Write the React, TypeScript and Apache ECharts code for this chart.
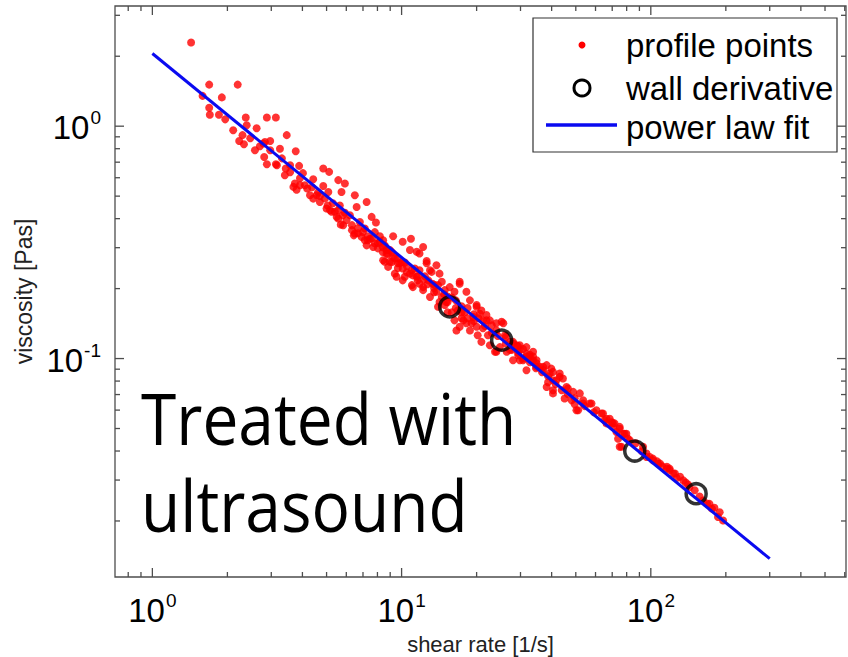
import React, { useEffect, useRef } from 'react';
import * as echarts from 'echarts';

const FONT = "'Liberation Sans', Arial, Helvetica, sans-serif";

const xMin = 0.708;
const xMax = 607;
const yMin = 0.01148;
const yMax = 3.29;

const xTickValues = [0.8, 0.9, 1, 2, 3, 4, 5, 6, 7, 8, 9, 10, 20, 30, 40, 50, 60, 70, 80, 90, 100, 200, 300, 400, 500, 600];
const yTickValues = [0.02, 0.03, 0.04, 0.05, 0.06, 0.07, 0.08, 0.09, 0.1, 0.2, 0.3, 0.4, 0.5, 0.6, 0.7, 0.8, 0.9, 1, 2, 3];
const majorTicks = [1, 10, 100, 0.1];

const xAxisName = 'shear rate [1/s]';
const yAxisName = 'viscosity [Pas]';
const legendNames = ['profile points', 'wall derivative', 'power law fit'];
const annotation = ['Treated with', 'ultrasound'];

const profilePoints: [number, number][] = [
  [1.43, 2.29], [1.69, 1.51], [2.20, 1.51], [1.59, 1.35], [1.90, 1.33], [1.69, 1.20], [1.85, 1.12], [1.96, 1.07],
  [2.37, 1.09], [2.88, 1.09], [3.13, 1.09], [2.39, 1.01], [2.62, 0.98], [2.30, 0.915], [2.23, 0.864], [2.33, 0.836],
  [2.70, 0.82], [2.97, 0.864], [2.83, 0.855], [3.46, 0.915], [3.25, 0.80], [2.81, 0.737], [2.88, 0.686], [3.13, 0.686],
  [3.76, 0.78], [3.43, 0.658], [3.88, 0.675], [4.85, 0.658], [5.12, 0.636], [4.42, 0.591], [3.73, 0.567], [3.68, 0.548],
  [3.79, 0.533], [4.85, 0.553], [5.57, 0.586], [5.92, 0.567], [4.18, 0.539], [4.29, 0.504], [4.42, 0.488], [4.70, 0.472],
  [5.08, 0.521], [5.74, 0.521], [6.49, 0.504], [7.24, 0.472], [6.60, 0.449], [5.00, 0.442], [5.24, 0.428], [5.49, 0.407],
  [5.70, 0.377], [6.01, 0.394], [7.58, 0.407], [7.89, 0.385], [6.49, 0.345], [6.91, 0.334], [7.46, 0.328], [8.18, 0.318],
  [9.25, 0.336], [10.1, 0.318], [10.9, 0.328], [10.8, 0.293], [11.5, 0.288], [12.2, 0.302], [12.6, 0.263], [8.70, 0.293],
  [7.69, 0.302], [9.25, 0.274], [9.84, 0.257], [8.43, 0.265], [2.79, 0.842], [4.56, 0.504], [5.05, 0.456], [5.16, 0.435],
  [5.40, 0.428], [5.57, 0.400], [5.83, 0.375], [6.43, 0.339], [7.12, 0.323], [7.81, 0.313], [7.24, 0.307], [8.43, 0.323],
  [8.70, 0.283], [8.56, 0.261], [11.8, 0.283], [10.1, 0.244], [9.54, 0.225], [10.8, 0.232], [11.5, 0.225], [12.6, 0.257],
  [8.97, 0.261], [8.83, 0.248], [9.39, 0.232], [10.3, 0.225], [13.8, 0.252], [13.2, 0.236], [14.2, 0.232], [11.1, 0.228],
  [11.8, 0.210], [11.0, 0.207], [12.2, 0.203], [12.8, 0.217], [13.6, 0.207], [14.5, 0.214], [15.6, 0.203], [17.1, 0.214],
  [18.2, 0.194], [18.8, 0.178], [16.3, 0.194], [13.8, 0.194], [14.5, 0.184], [15.1, 0.175], [16.3, 0.146], [17.4, 0.149],
  [18.2, 0.142], [17.1, 0.137], [20.0, 0.170], [20.9, 0.161], [21.9, 0.154], [22.6, 0.146], [21.2, 0.146], [19.4, 0.151],
  [20.0, 0.137], [25.2, 0.144], [24.0, 0.132], [20.9, 0.118], [22.6, 0.114], [24.0, 0.107], [27.2, 0.118], [28.9, 0.114],
  [30.7, 0.110], [31.7, 0.105], [33.7, 0.102], [29.4, 0.103], [34.8, 0.0953], [37.0, 0.0921], [39.9, 0.0905], [26.4, 0.107],
  [28.0, 0.0984], [10.1, 0.217], [11.1, 0.203], [12.2, 0.197], [13.0, 0.240], [13.0, 0.184], [14.0, 0.167], [17.1, 0.210],
  [20.0, 0.167], [20.6, 0.156], [21.9, 0.146], [21.2, 0.135], [19.1, 0.142], [17.7, 0.146], [16.6, 0.132], [24.0, 0.142],
  [24.8, 0.112], [28.0, 0.116], [29.8, 0.109], [31.7, 0.102], [33.7, 0.0984], [34.8, 0.0921], [37.0, 0.0891], [39.3, 0.0862],
  [40.5, 0.0807], [43.1, 0.0834], [45.9, 0.0755], [48.8, 0.0719], [51.9, 0.0708], [50.3, 0.0599], [53.5, 0.0662], [56.9, 0.0641],
  [60.5, 0.0599], [64.3, 0.058], [68.4, 0.0551], [70.5, 0.0526], [75.0, 0.0508], [79.8, 0.0475], [75.0, 0.0417], [93.1, 0.0417],
  [99.0, 0.0377], [109, 0.0353], [116, 0.0336], [123, 0.0320], [29.8, 0.0984], [31.7, 0.0891], [38.2, 0.0755], [40.5, 0.0708],
  [48.1, 0.0662], [25.6, 0.142], [23.7, 0.107], [28.0, 0.118], [29.8, 0.114], [31.7, 0.112], [33.7, 0.107], [32.7, 0.102],
  [30.7, 0.0984], [34.8, 0.0984], [35.9, 0.0921], [38.2, 0.0937], [40.5, 0.0876], [43.1, 0.0862], [41.8, 0.0807], [44.4, 0.0820],
  [40.5, 0.0731], [45.1, 0.0673], [46.5, 0.0743], [51.1, 0.0599], [53.5, 0.0641], [57.8, 0.0641], [63.4, 0.0580], [66.4, 0.0551],
  [71.6, 0.0526], [75.0, 0.0499], [78.5, 0.0475], [76.2, 0.0417], [96.1, 0.0377], [102, 0.0365], [119, 0.0336], [66.4, 0.0526],
  [70.5, 0.0508], [72.8, 0.0483], [77.3, 0.0475], [73.9, 0.0452], [82.3, 0.0445], [96.1, 0.0390], [102, 0.0371], [107, 0.0353],
  [116, 0.0342], [119, 0.0331], [125, 0.0320], [131, 0.0310], [135, 0.0299], [143, 0.0280], [162, 0.0245], [172, 0.0237],
  [180, 0.0228], [189, 0.0218], [195, 0.0201], [186, 0.0208], [150, 0.0271], [157, 0.0255], [138, 0.0293], [7.81, 0.350],
  [8.18, 0.336], [8.56, 0.307], [8.97, 0.293], [9.39, 0.270], [9.66, 0.257], [10.3, 0.259], [11.3, 0.244], [11.8, 0.240],
  [12.4, 0.226], [13.3, 0.210], [14.9, 0.197], [15.9, 0.183], [14.2, 0.175], [15.3, 0.158], [16.8, 0.161], [17.9, 0.158],
  [6.80, 0.387], [6.20, 0.414], [7.12, 0.363], [5.65, 0.456], [5.92, 0.424], [4.70, 0.500], [4.09, 0.557], [3.91, 0.597],
  [3.57, 0.634], [2.58, 0.788], [2.47, 0.888], [2.11, 0.961], [1.70, 1.12], [14.9, 0.170], [15.9, 0.158], [18.8, 0.132],
  [20.2, 0.126], [22.2, 0.126], [26.0, 0.126], [27.2, 0.109],
  [6.32, 0.375], [6.32, 0.357], [6.68, 0.364], [6.68, 0.346], [6.99, 0.350], [7.32, 0.336], [7.32, 0.323], [7.60, 0.329],
  [8.03, 0.314], [8.03, 0.298], [8.41, 0.301], [8.41, 0.287], [8.81, 0.281], [9.14, 0.287], [9.14, 0.260], [9.66, 0.270],
  [9.66, 0.245], [10.0, 0.260], [10.5, 0.250], [10.5, 0.235], [11.0, 0.240], [11.6, 0.226], [11.6, 0.217], [12.3, 0.219],
  [12.7, 0.209], [13.5, 0.201], [13.5, 0.193], [14.0, 0.207], [14.8, 0.189], [15.3, 0.185], [15.3, 0.175], [16.5, 0.178],
  [16.5, 0.165], [17.4, 0.168], [17.4, 0.158], [18.4, 0.165], [18.4, 0.149], [19.5, 0.155], [19.5, 0.145], [20.4, 0.149],
  [21.6, 0.138], [23.0, 0.129], [23.0, 0.139], [24.3, 0.125], [26.2, 0.116], [26.2, 0.124], [27.7, 0.109], [29.3, 0.106],
  [29.3, 0.113], [30.9, 0.100], [32.7, 0.0964], [32.7, 0.104], [34.6, 0.0908], [36.6, 0.0873], [38.7, 0.0839], [38.7, 0.0791],
  [41.5, 0.0776], [43.9, 0.0731], [46.4, 0.0703], [49.5, 0.0675], [49.5, 0.0636], [54.3, 0.0624], [59.1, 0.0587], [65.3, 0.0543],
  [69.7, 0.0532], [80.8, 0.0453], [87.0, 0.0432], [92.0, 0.0399], [106, 0.0361], [111, 0.0344], [127, 0.0306], [141, 0.0287],
  [168, 0.0238], [176, 0.0226], [2.97, 0.788], [3.31, 0.727], [3.57, 0.679], [4.02, 0.628], [4.37, 0.546], [4.62, 0.519],
  [4.92, 0.489], [5.30, 0.466], [5.56, 0.435], [5.81, 0.414], [3.91, 0.557], [3.40, 0.615], [3.16, 0.679],
];

const wallDerivative: [number, number][] = [
  [15.6, 0.167], [25.2, 0.120], [86.2, 0.040], [152, 0.0262],
];

const powerLawFit: [number, number][] = [
  [1, 2.055], [300, 0.01377],
];

const TICK_COLOR = '#4d4d4d';

function powLabel(v: number): string {
  const e = Math.log10(v);
  const r = Math.round(e);
  if (Math.abs(e - r) > 1e-6) return '';
  return `{b|10}{s|${r}}`;
}

const richLabel = {
  b: { fontSize: 33, fontFamily: FONT, color: '#000', verticalAlign: 'bottom', lineHeight: 36 },
  s: { fontSize: 19, fontFamily: FONT, color: '#000', verticalAlign: 'top', lineHeight: 19, padding: [0, 0, 0, 1] },
};

function isMajor(v: number) {
  return majorTicks.some((m) => Math.abs(m - v) < 1e-9) ? 1 : 0;
}

export default function App() {
  const ref = useRef<HTMLDivElement>(null);

  useEffect(() => {
    if (!ref.current) return;
    const chart = echarts.init(ref.current, null, { renderer: 'svg' });

    const option: any = {
      animation: false,
      backgroundColor: '#fff',
      grid: {
        left: 115,
        top: 6,
        width: 731,
        height: 571,
        containLabel: false,
        outerBoundsMode: 'none',
        show: true,
        borderColor: TICK_COLOR,
        borderWidth: 1.3,
        backgroundColor: 'transparent',
      },
      xAxis: {
        type: 'log',
        logBase: 10,
        min: xMin,
        max: xMax,
        name: xAxisName,
        nameLocation: 'middle',
        nameGap: 55,
        nameTextStyle: { fontSize: 22, fontFamily: FONT, color: '#222', lineHeight: 24 },
        axisLine: { show: false },
        axisTick: { show: false },
        splitLine: { show: false },
        axisLabel: { formatter: powLabel, rich: richLabel, margin: 14, showMinLabel: false, showMaxLabel: false },
      },
      yAxis: {
        type: 'log',
        logBase: 10,
        min: yMin,
        max: yMax,
        name: yAxisName,
        nameLocation: 'middle',
        nameGap: 73,
        nameTextStyle: { fontSize: 23, fontFamily: FONT, color: '#222' },
        axisLine: { show: false },
        axisTick: { show: false },
        splitLine: { show: false },
        axisLabel: { formatter: powLabel, rich: richLabel, margin: 14, showMinLabel: false, showMaxLabel: false },
      },
      series: [
        {
          type: 'custom',
          silent: true,
          clip: false,
          data: xTickValues.map((v) => [v, 1, isMajor(v)]),
          renderItem: (params: any, api: any) => {
            const cs = params.coordSys;
            const px = api.coord([api.value(0), 1])[0];
            const len = api.value(2) ? 9 : 5;
            const bottom = cs.y + cs.height;
            const st = { stroke: TICK_COLOR, lineWidth: 1.3 };
            return {
              type: 'group',
              children: [
                { type: 'line', shape: { x1: px, y1: bottom, x2: px, y2: bottom - len }, style: st },
                { type: 'line', shape: { x1: px, y1: cs.y, x2: px, y2: cs.y + len }, style: st },
              ],
            };
          },
        },
        {
          type: 'custom',
          silent: true,
          clip: false,
          data: yTickValues.map((v) => [1, v, isMajor(v)]),
          renderItem: (params: any, api: any) => {
            const cs = params.coordSys;
            const py = api.coord([1, api.value(1)])[1];
            const len = api.value(2) ? 9 : 5;
            const right = cs.x + cs.width;
            const st = { stroke: TICK_COLOR, lineWidth: 1.3 };
            return {
              type: 'group',
              children: [
                { type: 'line', shape: { x1: cs.x, y1: py, x2: cs.x + len, y2: py }, style: st },
                { type: 'line', shape: { x1: right, y1: py, x2: right - len, y2: py }, style: st },
              ],
            };
          },
        },
        {
          name: legendNames[0],
          type: 'scatter',
          data: profilePoints,
          symbol: 'circle',
          symbolSize: 8,
          itemStyle: { color: '#ff0000' },
          silent: true,
        },
        {
          name: legendNames[1],
          type: 'scatter',
          data: wallDerivative,
          symbol: 'circle',
          symbolSize: 20,
          itemStyle: { color: 'transparent', borderColor: '#000', borderWidth: 3.5 },
          silent: true,
        },
        {
          name: legendNames[2],
          type: 'line',
          data: powerLawFit,
          showSymbol: false,
          lineStyle: { color: '#0a0af0', width: 3 },
          silent: true,
        },
      ],
      graphic: [
        {
          type: 'group',
          z: 100,
          children: [
            { type: 'rect', shape: { x: 533, y: 18, width: 304, height: 134 }, style: { fill: '#fff', stroke: '#333', lineWidth: 1.2 } },
            { type: 'circle', shape: { cx: 582, cy: 45, r: 3.5 }, style: { fill: '#ff0000' } },
            { type: 'circle', shape: { cx: 582, cy: 88, r: 8 }, style: { fill: 'none', stroke: '#000', lineWidth: 3 } },
            { type: 'line', shape: { x1: 546, y1: 125, x2: 617, y2: 125 }, style: { stroke: '#0a0af0', lineWidth: 3.5 } },
            { type: 'text', x: 626, y: 45, style: { text: legendNames[0], fontSize: 33, fontFamily: FONT, fill: '#000', verticalAlign: 'middle' } },
            { type: 'text', x: 626, y: 88, style: { text: legendNames[1], fontSize: 33, fontFamily: FONT, fill: '#000', verticalAlign: 'middle' } },
            { type: 'text', x: 626, y: 127, style: { text: legendNames[2], fontSize: 33, fontFamily: FONT, fill: '#000', verticalAlign: 'middle' } },
          ],
        },
        { type: 'text', z: 100, x: 141, y: 418, scaleY: 1.1, style: { text: annotation[0], fontSize: 64, fontFamily: "'Open Sans', 'Noto Sans', sans-serif", fill: '#000', verticalAlign: 'middle' } },
        { type: 'text', z: 100, x: 141, y: 505, scaleY: 1.1, style: { text: annotation[1], fontSize: 64, fontFamily: "'Open Sans', 'Noto Sans', sans-serif", fill: '#000', verticalAlign: 'middle' } },
      ],
    };

    chart.setOption(option);
    return () => chart.dispose();
  }, []);

  return (
    <div
      ref={ref}
      style={{ position: 'fixed', left: 0, top: 0, width: 848, height: 657, background: '#fff' }}
    />
  );
}
